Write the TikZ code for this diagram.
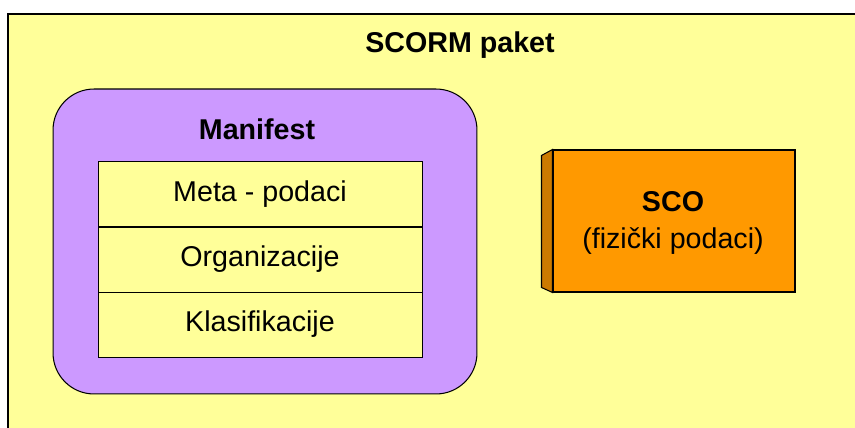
\documentclass[tikz,border=0pt]{standalone}
\usepackage{fontspec}
\setmainfont{Liberation Sans}
\usetikzlibrary{calc}
\definecolor{paketbg}{HTML}{FFFF99}
\definecolor{manifestbg}{HTML}{CC99FF}
\definecolor{scobg}{HTML}{FF9900}
\definecolor{scoside}{HTML}{CC7A00}

\begin{document}
\begin{tikzpicture}[
    x=0.02cm, y=-0.02cm,
    every node/.style={font=\fontsize{16.3}{21.5}\selectfont},
    row/.style={draw, fill=paketbg, minimum width=6.48cm, minimum height=1.3cm, inner sep=0pt},
    box/.style={draw, line width=0.6pt}
]
\useasboundingbox (0,0) rectangle (855,428);
% outer package
\fill[white] (0,0) rectangle (855,428);
\draw[box, fill=paketbg] (8,14) rectangle (880,450);
\node (paket) at (460,45) {\textbf{SCORM paket}};

% manifest
\node[box, fill=manifestbg, rounded corners=0.82cm, minimum width=8.48cm, minimum height=6.1cm] (manifest) at (265,241.5) {};
\node (mtitle) at (257,129) {\textbf{Manifest}};
\node[row] (meta) at (260,194) {Meta - podaci};
\node[row] (org) at (260,259.5) {Organizacije};
\node[row] (klas) at (260,324.5) {Klasifikacije};

% SCO
\node[box, fill=scobg, minimum width=4.84cm, minimum height=2.84cm, align=center] (sco) at (674,221) {};
\node[align=center] (scotext) at (673,223) {\textbf{SCO}\\(fizički podaci)};
\draw[box, fill=scoside] (sco.north west) -- ++(-11,6) -- ($(sco.south west)+(-11,-5)$) -- (sco.south west) -- cycle;
\end{tikzpicture}
\end{document}
